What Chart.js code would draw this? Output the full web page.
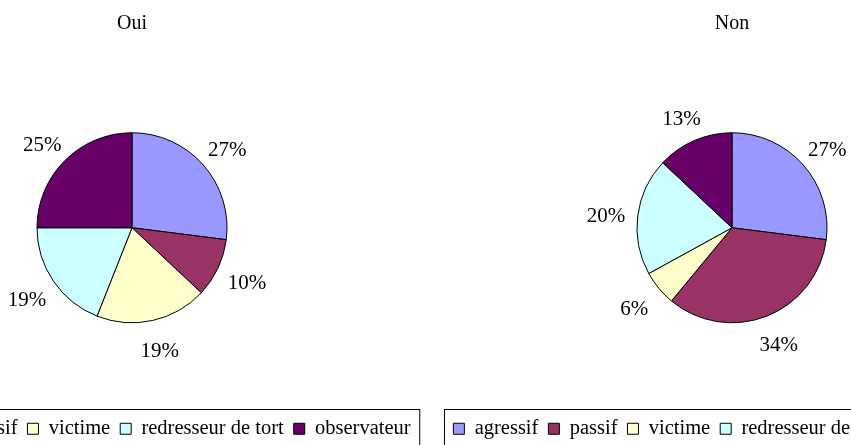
<!DOCTYPE html>
<html>
<head>
<meta charset="utf-8">
<title>Oui / Non</title>
<script src="https://cdn.jsdelivr.net/npm/chart.js@4/dist/chart.umd.min.js"></script>
<style>
    html, body { margin: 0; padding: 0; background: #fff; }
    body { width: 851px; height: 445px; overflow: hidden; position: relative; }
    canvas { position: absolute; top: 0; }
    #chartOui { left: -168px; }
    #chartNon { left: 432px; }
</style>
</head>
<body>
<canvas id="chartOui" width="600" height="470"></canvas>
<canvas id="chartNon" width="600" height="470"></canvas>
<script>
// Data
const categories = ['agressif', 'passif', 'victime', 'redresseur de tort', 'observateur'];
const ouiValues = [27, 10, 19, 19, 25];
const nonValues = [27, 34, 6, 20, 13];
const chartTitles = ['Oui', 'Non'];

// Excel-like palette
const sliceColors = ['#9999FF', '#993366', '#FFFFCC', '#CCFFFF', '#660066'];
const FONT = "'Liberation Serif', 'Times New Roman', serif";

// Percent labels outside the pie
const percentLabels = {
    id: 'percentLabels',
    afterDatasetsDraw(chart) {
        const ctx = chart.ctx;
        const meta = chart.getDatasetMeta(0);
        const values = chart.data.datasets[0].data;
        const total = values.reduce((a, b) => a + b, 0);
        ctx.save();
        ctx.font = '21px ' + FONT;
        ctx.fillStyle = '#000';
        ctx.textAlign = 'center';
        ctx.textBaseline = 'middle';
        meta.data.forEach((arc, i) => {
            const mid = (arc.startAngle + arc.endAngle) / 2;
            // label box sits a little wider than tall around the pie
            const x = arc.x + Math.cos(mid) * (arc.outerRadius + 32);
            const y = arc.y + Math.sin(mid) * (arc.outerRadius + 27.5) + 4;
            ctx.fillText(Math.round(values[i] / total * 100) + '%', x, y);
        });
        ctx.restore();
    }
};

// Frame around the legend
const legendFrame = {
    id: 'legendFrame',
    afterDraw(chart) {
        const boxes = chart.legend.legendHitBoxes;
        if (!boxes || !boxes.length) return;
        const left = Math.min(...boxes.map(b => b.left)) - 9;
        const right = Math.max(...boxes.map(b => b.left + b.width)) + 9;
        const top = Math.min(...boxes.map(b => b.top)) - 10;
        const ctx = chart.ctx;
        ctx.save();
        ctx.strokeStyle = '#000';
        ctx.lineWidth = 1;
        ctx.strokeRect(Math.round(left) + 0.5, Math.round(top) + 0.5, right - left, chart.height + 10 - top);
        ctx.restore();
    }
};

function makePie(canvasId, title, values) {
    const ctx = document.getElementById(canvasId).getContext('2d');
    return new Chart(ctx, {
        type: 'pie',
        data: {
            labels: categories,
            datasets: [{
                data: values,
                backgroundColor: sliceColors,
                borderColor: '#000',
                borderWidth: 1,
                radius: 95
            }]
        },
        options: {
            responsive: false,
            animation: false,
            layout: { padding: { bottom: 21 } },
            plugins: {
                title: {
                    display: true,
                    text: title,
                    color: '#000',
                    font: { family: FONT, size: 20, weight: 'normal' },
                    padding: { top: 12, bottom: 11 }
                },
                legend: {
                    position: 'bottom',
                    labels: {
                        color: '#000',
                        font: { family: FONT, size: 20.5 },
                        boxWidth: 11,
                        boxHeight: 11,
                        padding: 10
                    }
                },
                tooltip: { enabled: false }
            }
        },
        plugins: [percentLabels, legendFrame]
    });
}

makePie('chartOui', chartTitles[0], ouiValues);
makePie('chartNon', chartTitles[1], nonValues);
</script>
</body>
</html>
